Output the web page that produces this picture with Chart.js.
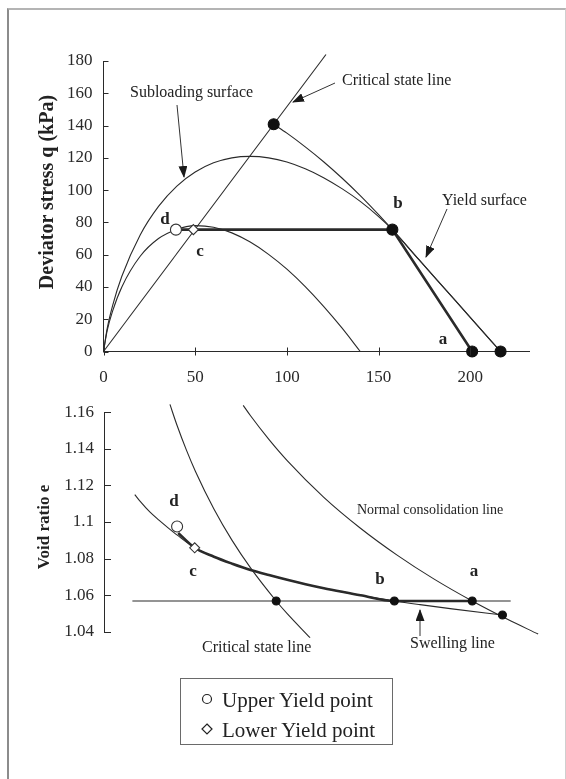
<!DOCTYPE html>
<html><head><meta charset="utf-8">
<script src="https://cdn.jsdelivr.net/npm/chart.js@4/dist/chart.umd.min.js"></script>
<style>
html,body{margin:0;padding:0;background:#fff;}
#wrap{position:relative;width:566px;height:779px;overflow:hidden;background:#fff;font-family:"Liberation Serif","Times New Roman",serif;color:#222;}
#frame{position:absolute;left:7px;top:8px;width:556px;height:800px;border-left:2px solid #8c8c8c;border-top:2px solid #b4b4b4;border-right:1px solid #cfcfcf;}
canvas{position:absolute;left:0;}
#c1{top:0;} #c2{top:380px;}
.lbl{position:absolute;white-space:nowrap;line-height:1;transform:translateY(-50%);font-size:16px;}
.ltr{position:absolute;white-space:nowrap;line-height:1;transform:translate(-50%,-50%);font-size:17px;font-weight:bold;}
.ttl{position:absolute;white-space:nowrap;line-height:1;font-weight:bold;transform:translate(-50%,-50%) rotate(-90deg);}
#legend{position:absolute;left:180px;top:678px;width:211px;height:65px;border:1.5px solid #6a6a6a;background:#fff;}
.li{position:absolute;left:0;font-size:21px;line-height:1;white-space:nowrap;}
svg{position:absolute;left:0;top:0;}
</style></head>
<body>
<div id="wrap">
<div id="frame"></div>
<canvas id="c1" width="566" height="400"></canvas>
<canvas id="c2" width="566" height="399"></canvas>
<svg width="566" height="779">
<defs><marker id="ah" markerWidth="12" markerHeight="9" refX="11" refY="4.5" orient="auto" markerUnits="userSpaceOnUse"><path d="M0,0 L12,4.5 L0,9 z" fill="#1a1a1a"/></marker></defs>
<line x1="177" y1="105" x2="184" y2="177" stroke="#333" stroke-width="1" marker-end="url(#ah)"/>
<line x1="335" y1="83" x2="293" y2="102" stroke="#333" stroke-width="1" marker-end="url(#ah)"/>
<line x1="447" y1="209" x2="426" y2="257" stroke="#333" stroke-width="1" marker-end="url(#ah)"/>
<line x1="420" y1="636" x2="420" y2="610" stroke="#333" stroke-width="1" marker-end="url(#ah)"/>
</svg>
<div class="ttl" style="left:46px;top:192px;font-size:20px;">Deviator stress q (kPa)</div>
<div class="ttl" style="left:43px;top:527px;font-size:17px;">Void ratio e</div>
<div class="lbl" style="left:130px;top:92px;">Subloading surface</div>
<div class="lbl" style="left:342px;top:80px;">Critical state line</div>
<div class="lbl" style="left:442px;top:200px;">Yield surface</div>
<div class="ltr" style="left:398px;top:202px;">b</div>
<div class="ltr" style="left:443px;top:338px;">a</div>
<div class="ltr" style="left:165px;top:218px;">d</div>
<div class="ltr" style="left:200px;top:250px;">c</div>
<div class="ltr" style="left:174px;top:500px;">d</div>
<div class="ltr" style="left:193px;top:570px;">c</div>
<div class="ltr" style="left:380px;top:578px;">b</div>
<div class="ltr" style="left:474px;top:570px;">a</div>
<div class="lbl" style="left:357px;top:510px;font-size:14px;">Normal consolidation line</div>
<div class="lbl" style="left:202px;top:647px;">Critical state line</div>
<div class="lbl" style="left:410px;top:643px;">Swelling line</div>
<div id="legend">
 <div class="li" style="top:8px;"><svg width="40" height="22" style="position:relative;display:inline-block;vertical-align:middle;left:0;top:0;"><circle cx="26" cy="11" r="4.5" fill="#fff" stroke="#222" stroke-width="1.2"/></svg><span style="position:absolute;left:41px;top:3px;">Upper Yield point</span></div>
 <div class="li" style="top:38px;"><svg width="40" height="22" style="position:relative;display:inline-block;vertical-align:middle;left:0;top:0;"><path d="M26,6 L31,11 L26,16 L21,11 z" fill="#fff" stroke="#222" stroke-width="1.2"/></svg><span style="position:absolute;left:41px;top:3px;">Lower Yield point</span></div>
</div>
</div>
<script>
// ---------- top chart: p' - q plane ----------
const csP = [0, 121.3];
const csQ = [0, 184];
const ysP = [92.8, 100, 110, 120, 130, 140, 150, 157.5, 172, 187, 202, 216.5];
const ysQ = [140.8, 135.3, 126.8, 117.6, 107.5, 96.6, 84.8, 75.5, 56.9, 37.7, 18.5, 0];
const slP = [0, 2, 5, 10, 20, 30, 40, 50, 60, 70, 80, 90, 100, 110, 120, 130, 140, 150, 157.5, 172, 187, 202, 216.5];
const slQ = [0, 14.2, 28.6, 46.6, 72.2, 89.9, 102.5, 111.2, 116.9, 120.0, 120.9, 120.0, 117.4, 113.2, 107.7, 100.9, 93.0, 83.6, 75.5, 56.9, 37.7, 18.5, 0];
const cuP = [0, 2, 5, 10, 20, 30, 39.5, 50, 60, 70, 80, 90, 100, 110, 120, 130, 140];
const cuQ = [0, 12.9, 25.2, 40.0, 59.0, 70.0, 75.5, 78.0, 77.0, 73.5, 67.8, 60.2, 51.0, 40.2, 28.0, 14.6, 0];
const spP = [201, 157.5, 49, 39.5];
const spQ = [0, 75.5, 75.5, 75.5];
const dotP = [92.8, 157.5, 201, 216.5];
const dotQ = [140.8, 75.5, 0, 0];
const upperP = [39.5], upperQ = [75.5];
const lowerP = [49], lowerQ = [75.5];
const qTicksMax = 180, pMax = 232;

// ---------- bottom chart: p' - e plane ----------
const swP = [16.8, 20, 25, 30, 35, 40, 49.5, 60, 70, 80, 90, 100, 110, 120, 130, 140, 158.5, 172.5, 190, 217.5];
const swE = [1.1150, 1.1110, 1.1055, 1.1010, 1.0968, 1.0928, 1.0859, 1.0810, 1.0772, 1.0738, 1.0710, 1.0684, 1.0660, 1.0638, 1.0618, 1.0599, 1.0568, 1.0548, 1.0525, 1.0491];
const epP = [40.5, 49.5, 60, 70, 80, 90, 100, 110, 120, 130, 140, 158.5, 201];
const epE = [1.0940, 1.0859, 1.0810, 1.0772, 1.0738, 1.0710, 1.0684, 1.0660, 1.0638, 1.0618, 1.0599, 1.0568, 1.0568];
const hzP = [15.5, 222];
const hzE = [1.0568, 1.0568];
const cslP = [36, 40, 45, 50, 60, 70, 80, 94, 100, 112.5];
const cslE = [1.1643, 1.1525, 1.1393, 1.1275, 1.1071, 1.0898, 1.0749, 1.0568, 1.0499, 1.0367];
const nclP = [76, 80, 90, 100, 120, 140, 160, 180, 201, 220, 237];
const nclE = [1.1638, 1.1581, 1.1452, 1.1336, 1.1135, 1.0966, 1.0819, 1.0689, 1.0568, 1.0469, 1.0387];
const edotP = [94, 158.5, 201, 217.5];
const edotE = [1.0568, 1.0568, 1.0568, 1.0491];
const eUpperP = [39.9], eUpperE = [1.0975];
const eLowerP = [49.5], eLowerE = [1.0859];

const pts = (xs, ys) => xs.map((x, i) => ({x, y: ys[i]}));
const FONT = '"Liberation Serif","Times New Roman",serif';
const INK = '#2a2a2a';

const tickMarks = {
  id: 'tickMarks',
  afterDraw(chart, args, o) {
    const ctx = chart.ctx; ctx.save(); ctx.strokeStyle = INK; ctx.lineWidth = 1;
    const y = chart.scales.y, x = chart.scales.x;
    y.ticks.forEach(t => { const py = Math.round(y.getPixelForValue(t.value)) + 0.5;
      ctx.beginPath(); ctx.moveTo(y.right, py); ctx.lineTo(y.right + o.yLen, py); ctx.stroke(); });
    if (o.xLen) x.ticks.forEach(t => { const px = Math.round(x.getPixelForValue(t.value)) + 0.5;
      ctx.beginPath(); ctx.moveTo(px, x.top - o.xLen); ctx.lineTo(px, x.top + o.xLen); ctx.stroke(); });
    ctx.restore();
  }
};

function line(data, w, extra) {
  return Object.assign({data, showLine: true, pointRadius: 0, borderColor: INK, borderWidth: w,
    clip: false, cubicInterpolationMode: 'monotone', fill: false}, extra || {});
}
function dots(data, r, fill, style) {
  return {data, showLine: false, pointRadius: r, pointStyle: style || 'circle',
    backgroundColor: fill, borderColor: fill === '#fff' ? '#333' : '#111', borderWidth: 1.1, clip: false};
}

new Chart(document.getElementById('c1'), {
  type: 'scatter',
  data: {datasets: [
    dots(pts(upperP, upperQ), 5.5, '#fff'),
    dots(pts(lowerP, lowerQ), 5, '#fff', 'rectRot'),
    dots(pts(dotP, dotQ), 5.5, '#111'),
    line(pts(spP, spQ), 2.6, {cubicInterpolationMode: 'default', tension: 0}),
    line(pts(csP, csQ), 1.1, {cubicInterpolationMode: 'default', tension: 0}),
    line(pts(ysP, ysQ), 1.1),
    line(pts(slP, slQ), 1.1),
    line(pts(cuP, cuQ), 1.1)
  ]},
  options: {
    responsive: false, animation: false, events: [],
    layout: {padding: {left: 0, top: 61, right: 37, bottom: 0}},
    plugins: {legend: {display: false}, tooltip: {enabled: false}, tickMarks: {yLen: 5, xLen: 4}},
    scales: {
      x: {type: 'linear', min: 0, max: pMax,
        afterBuildTicks: s => { s.ticks = s.ticks.filter(t => t.value % 50 === 0); },
        afterFit: s => { s.height = 48.5; },
        ticks: {stepSize: 50, font: {family: FONT, size: 17}, color: INK, padding: 16, maxRotation: 0},
        grid: {display: false, drawTicks: false}, border: {display: true, color: INK, width: 1}},
      y: {type: 'linear', min: 0, max: qTicksMax,
        afterFit: s => { s.width = 103.5; },
        ticks: {stepSize: 20, font: {family: FONT, size: 17}, color: INK, padding: 11},
        grid: {display: false, drawTicks: false}, border: {display: true, color: INK, width: 1}}
    }
  },
  plugins: [tickMarks]
});

new Chart(document.getElementById('c2'), {
  type: 'scatter',
  data: {datasets: [
    dots(pts(eUpperP, eUpperE), 5.5, '#fff'),
    dots(pts(eLowerP, eLowerE), 5, '#fff', 'rectRot'),
    dots(pts(edotP, edotE), 4, '#111'),
    line(pts(epP, epE), 2.6),
    line(pts(hzP, hzE), 1.1, {cubicInterpolationMode: 'default', tension: 0}),
    line(pts(swP, swE), 1.1),
    line(pts(cslP, cslE), 1.1),
    line(pts(nclP, nclE), 1.1)
  ]},
  options: {
    responsive: false, animation: false, events: [],
    layout: {padding: {left: 0, top: 32.3, right: 37, bottom: 147.3}},
    plugins: {legend: {display: false}, tooltip: {enabled: false}, tickMarks: {yLen: 7, xLen: 0}},
    scales: {
      x: {type: 'linear', min: 0, max: pMax, display: false},
      y: {type: 'linear', min: 1.04, max: 1.16,
        afterFit: s => { s.width = 104; },
        ticks: {stepSize: 0.02, font: {family: FONT, size: 17}, color: INK, padding: 10,
          callback: v => String(+Number(v).toFixed(2))},
        grid: {display: false, drawTicks: false}, border: {display: true, color: INK, width: 1}}
    }
  },
  plugins: [tickMarks]
});
</script>
</body></html>
